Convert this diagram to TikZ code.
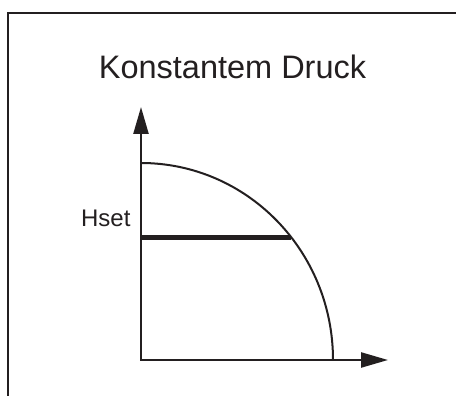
\documentclass[tikz,border=0pt]{standalone}
\usepackage{fontspec}
\setmainfont{Liberation Sans}
\usetikzlibrary{arrows.meta}
\definecolor{ink}{HTML}{231F20}

\begin{document}
\begin{tikzpicture}[x=1pt,y=-1pt,
  axis/.style={ink,line width=2.4pt,{Triangle[length=27pt,width=15pt]}-{Triangle[length=27pt,width=15pt]}},
  kurve/.style={ink,line width=2pt},
  hline/.style={ink,line width=5pt}]
\useasboundingbox (0,0) rectangle (456,396);
% Rahmen
\draw [ink,line width=2.4pt] (457,13)--(8,13)--(8,397);
% Titel
\node (titel) [ink,anchor=base,font=\fontsize{32.5}{36}\selectfont] at (232.5,79) {Konstantem Druck};
% Achsen
\coordinate (O) at (141,360);
\coordinate (ytip) at (141,107);
\coordinate (xtip) at (388,360);
\draw [axis] (ytip)--(O)--(xtip);
% Kennlinie
\coordinate (hmax) at (141,163);
\coordinate (qmax) at (333,360);
\draw [kurve] (hmax) .. controls (247,163) and (333,251) .. (qmax);
% Hset
\coordinate (hset) at (141,237);
\coordinate (schnitt) at (291,237);
\draw [hline] (hset)--(schnitt);
\node (hsetlabel) [ink,anchor=base east,font=\fontsize{24}{27}\selectfont] at (134,226) {Hset};
\end{tikzpicture}
\end{document}
